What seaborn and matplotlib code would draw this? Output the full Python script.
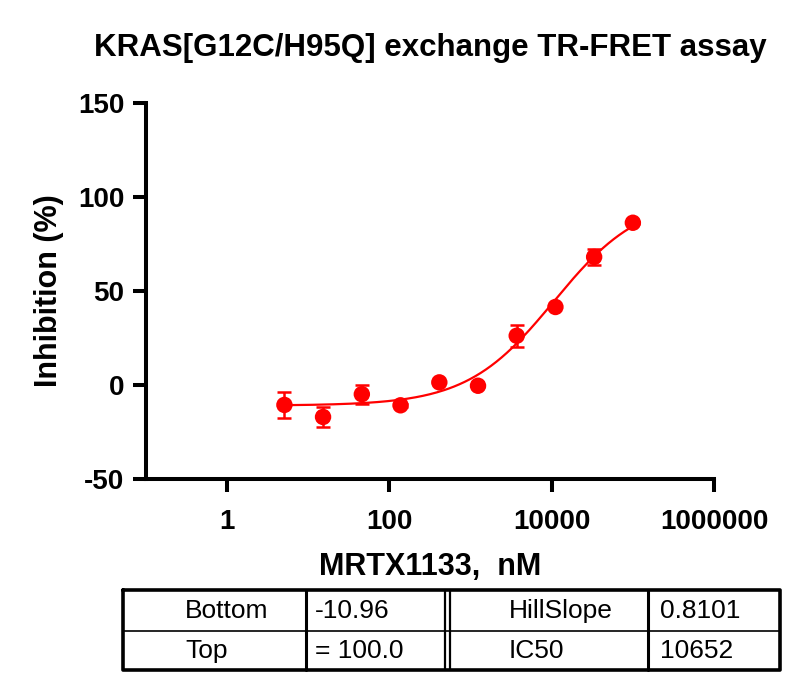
import numpy as np
import pandas as pd
import matplotlib
matplotlib.use('Agg')
import matplotlib.pyplot as plt
import seaborn as sns

# dados
conc_nM = [5.08, 15.2, 45.7, 137, 412, 1235, 3704, 11111, 33333, 100000]
inibicao = [-10.6, -17.0, -4.9, -10.8, 1.4, -0.4, 26.2, 41.5, 68.1, 86.3]
erro = [6.7, 5.3, 5.1, 0.8, 0.6, 0.6, 5.9, 0.8, 4.1, 0.6]

# parametros do ajuste (tabela)
param_nomes_esq = ['Bottom', 'Top']
param_vals_esq = ['-10.96', '= 100.0']
param_nomes_dir = ['HillSlope', 'IC50']
param_vals_dir = ['0.8101', '10652']
bottom, top, hill, ic50 = -10.96, 100.0, 0.8101, 10652.0

x_ticks = [1, 100, 10000, 1000000]
y_ticks = [-50, 0, 50, 100, 150]

sns.set_style('ticks')
plt.rcParams['font.family'] = ['Liberation Sans', 'DejaVu Sans']
plt.rcParams['font.weight'] = 'bold'
for k in ['text.color', 'axes.labelcolor', 'xtick.color', 'ytick.color', 'axes.edgecolor']:
    plt.rcParams[k] = 'black'

fig = plt.figure(figsize=(8.01, 6.91), dpi=100)
ax = fig.add_axes([146 / 801, 1 - 479 / 691, (714 - 146) / 801, (479 - 103) / 691])

# curva ajustada (4PL) a partir dos parametros da tabela
xs = np.logspace(np.log10(conc_nM[0]), np.log10(conc_nM[-1]), 200)
curva = pd.DataFrame({'x': xs, 'y': bottom + (top - bottom) / (1 + (ic50 / xs) ** hill)})
sns.lineplot(data=curva, x='x', y='y', color='#FF0000', linewidth=1.6, ax=ax)

ax.errorbar(conc_nM, inibicao, yerr=erro, fmt='none', ecolor='#FF0000',
            elinewidth=1.8, capsize=5.2, capthick=1.8, zorder=3)
pontos = pd.DataFrame({'x': conc_nM, 'y': inibicao})
sns.scatterplot(data=pontos, x='x', y='y', color='#FF0000', s=140,
                edgecolor='none', ax=ax, zorder=4)

ax.set_xscale('log')
ax.set_xlim(0.1, 1e6)
ax.set_ylim(-50, 150)
ax.set_xticks(x_ticks)
ax.set_xticklabels([str(t) for t in x_ticks])
ax.minorticks_off()
ax.set_yticks(y_ticks)
ax.set_yticklabels([str(t) for t in y_ticks])
sns.despine(ax=ax)
for s in ['left', 'bottom']:
    ax.spines[s].set_linewidth(2.9)
ax.tick_params(axis='both', length=9.5, width=2.9, labelsize=20)
ax.tick_params(axis='x', pad=12)
ax.tick_params(axis='y', pad=6)
ax.set_xlabel('MRTX1133,  nM', fontsize=22, fontweight='bold', labelpad=12)
ax.set_ylabel('Inhibition (%)', fontsize=22, fontweight='bold', labelpad=10)
ax.set_title('KRAS[G12C/H95Q] exchange TR-FRET assay', fontsize=22.5,
             fontweight='bold', pad=34)

# tabela de parametros
tab = fig.add_axes([0, 0, 1, 1], zorder=-1)
tab.set_xlim(0, 801)
tab.set_ylim(691, 0)
tab.axis('off')
esq, dir_, topo, meio, base = 123, 780, 590, 631, 670
tab.plot([esq, dir_, dir_, esq, esq], [topo, topo, base, base, topo], color='black', lw=2.6)
tab.plot([esq, dir_], [meio, meio], color='black', lw=1.2)
for xv, lw in [(306, 2.2), (444.5, 1.6), (449.5, 1.6), (648, 2.2)]:
    tab.plot([xv, xv], [topo, base], color='black', lw=lw)
for i, yc in enumerate([611, 651]):
    tab.text(185, yc, param_nomes_esq[i], fontsize=19, fontweight='normal', va='center')
    tab.text(315, yc, param_vals_esq[i], fontsize=19, fontweight='normal', va='center')
    tab.text(509, yc, param_nomes_dir[i], fontsize=19, fontweight='normal', va='center')
    tab.text(660, yc, param_vals_dir[i], fontsize=19, fontweight='normal', va='center')

fig.savefig('out.png', dpi=100)
